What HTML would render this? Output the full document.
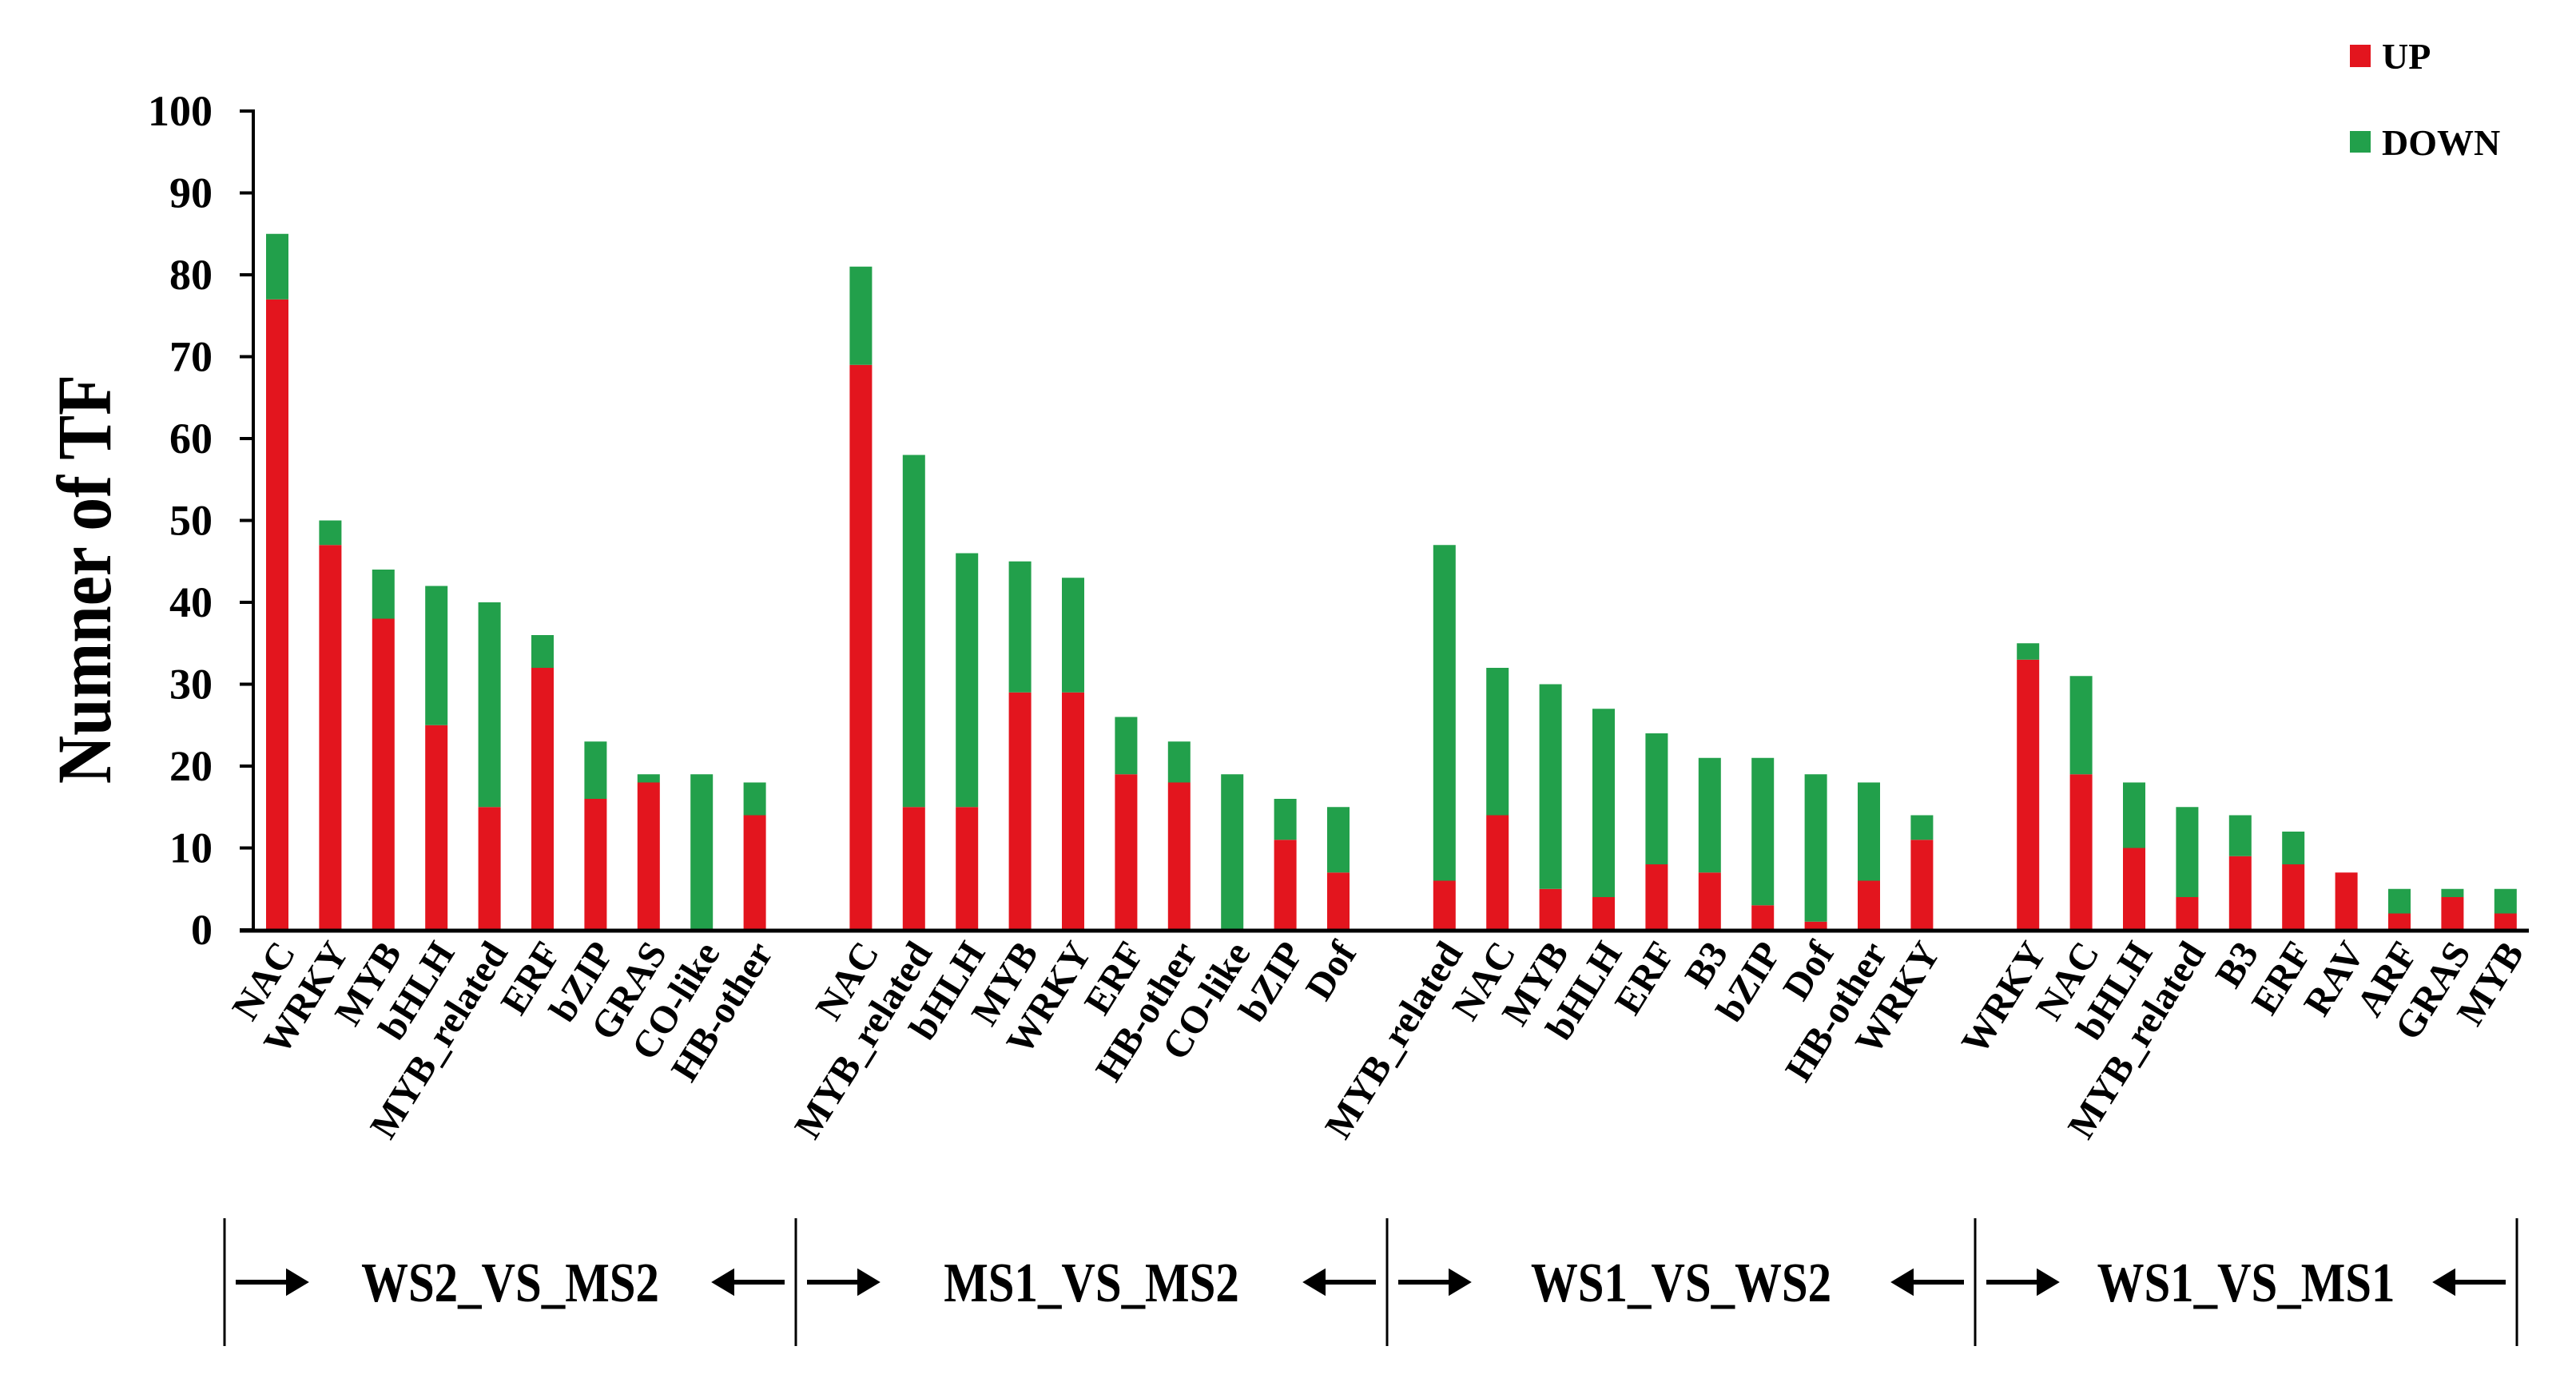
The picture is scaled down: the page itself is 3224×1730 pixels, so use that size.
<!DOCTYPE html>
<html><head><meta charset="utf-8"><style>
html,body{margin:0;padding:0;background:#fff;}
svg{display:block;font-family:"Liberation Serif",serif;font-weight:bold;}
</style></head><body>
<svg id="chart" width="3224" height="1730" viewBox="0 0 3224 1730" xmlns="http://www.w3.org/2000/svg">
<g id="bars"></g>
<g id="axes"></g>
<g id="xlabels"></g>
<text transform="translate(138,725) rotate(-90) scale(0.95,1.1)" text-anchor="middle" font-size="88">Numner of TF</text>
<g>
<g><rect x="2941" y="56" width="26" height="28" fill="#e3151e"/><text x="2981" y="86" font-size="46">UP</text></g>
<g><rect x="2941" y="164" width="26" height="27" fill="#22a04b"/><text x="2981" y="194" font-size="46">DOWN</text></g>
</g>
<g id="groups"></g>
</svg>
<script>
const groupNames = ["WS2_VS_MS2","MS1_VS_MS2","WS1_VS_WS2","WS1_VS_MS1"];
const categories = [
 ["NAC","WRKY","MYB","bHLH","MYB_related","ERF","bZIP","GRAS","CO-like","HB-other"],
 ["NAC","MYB_related","bHLH","MYB","WRKY","ERF","HB-other","CO-like","bZIP","Dof"],
 ["MYB_related","NAC","MYB","bHLH","ERF","B3","bZIP","Dof","HB-other","WRKY"],
 ["WRKY","NAC","bHLH","MYB_related","B3","ERF","RAV","ARF","GRAS","MYB"]
];
const upValues = [
 [77,47,38,25,15,32,16,18,0,14],
 [69,15,15,29,29,19,18,0,11,7],
 [6,14,5,4,8,7,3,1,6,11],
 [33,19,10,4,9,8,7,2,4,2]
];
const downValues = [
 [8,3,6,17,25,4,7,1,19,4],
 [12,43,31,16,14,7,5,19,5,8],
 [41,18,25,23,16,14,18,18,12,3],
 [2,12,8,11,5,4,0,3,1,3]
];
const yTicks = [0,10,20,30,40,50,60,70,80,90,100];

const NS="http://www.w3.org/2000/svg";
const x0=347, step=66.4, barW=28, baseY=1164, topY=139, yMax=100;
const yScale=v=>baseY-(v/yMax)*(baseY-topY);
const xIndex=(g,i)=>x0+(g*11+i)*step;
function mk(tag,attrs,parent){const e=document.createElementNS(NS,tag);for(const k in attrs)e.setAttribute(k,attrs[k]);parent.appendChild(e);return e;}
const bars=document.getElementById('bars'), axes=document.getElementById('axes'), xl=document.getElementById('xlabels'), grp=document.getElementById('groups');

categories.forEach((cats,g)=>{
 cats.forEach((c,i)=>{
  const cx=xIndex(g,i), up=upValues[g][i], dn=downValues[g][i];
  const r=mk('rect',{x:cx-barW/2,y:yScale(up),width:barW,height:baseY-yScale(up),fill:'#e3151e'},bars);
  
  
  const d=mk('rect',{x:cx-barW/2,y:yScale(up+dn),width:barW,height:yScale(up)-yScale(up+dn),fill:'#22a04b'},bars);
  
  
  const t=mk('text',{transform:`translate(${cx+24},1192) rotate(-58)`,'text-anchor':'end','font-size':'48'},xl);
  t.textContent=c;
  
  
 });
});

const ya=mk('line',{x1:317,y1:topY-2,x2:317,y2:baseY+3,stroke:'#000','stroke-width':4},axes);


const xa=mk('line',{x1:300,y1:baseY+1,x2:3165,y2:baseY+1,stroke:'#000','stroke-width':5},axes);


yTicks.forEach(v=>{
 const y=yScale(v);
 const tk=mk('line',{x1:300,y1:y,x2:317,y2:y,stroke:'#000','stroke-width':4},axes);
 
 
 const tl=mk('text',{x:266,y:y+18,'text-anchor':'end','font-size':'54'},axes);
 tl.textContent=v;
 
 
});

const dividers=[281,996,1736,2472,3150];
dividers.forEach(x=>{
 const l=mk('line',{x1:x,y1:1525,x2:x,y2:1685,stroke:'#000','stroke-width':3},grp);
 
 
});
groupNames.forEach((n,g)=>{
 const a=dividers[g], b=dividers[g+1], ay=1605;
 const p1=mk('path',{d:`M${a+14} ${ay} L${a+80} ${ay} M${a+80} ${ay-12} L${a+100} ${ay} L${a+80} ${ay+12} Z`,stroke:'#000','stroke-width':6,fill:'#000'},grp);
 
 
 const p2=mk('path',{d:`M${b-14} ${ay} L${b-80} ${ay} M${b-80} ${ay-12} L${b-100} ${ay} L${b-80} ${ay+12} Z`,stroke:'#000','stroke-width':6,fill:'#000'},grp);
 
 
 const t=mk('text',{transform:`translate(${(a+b)/2},${ay+24}) scale(0.92,1.1)`,'text-anchor':'middle','font-size':'64'},grp);
 t.textContent=n;
 
 
});
</script>
</body></html>
